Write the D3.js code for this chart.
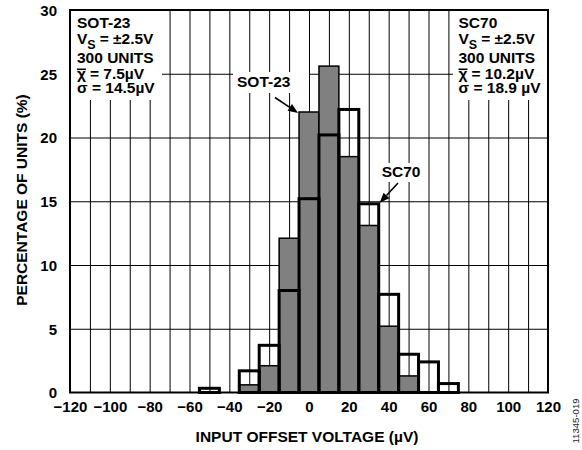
<!DOCTYPE html>
<html><head><meta charset="utf-8">
<script src="https://cdn.jsdelivr.net/npm/d3@7"></script>
<style>
body{margin:0;background:#fff}
svg{display:block}
text{font-family:"Liberation Sans",Arial,Helvetica,sans-serif}
</style>
</head><body>
<svg id="c" width="582" height="450"></svg>
<script>
// ---- data ----
const bins  = [-50, -40, -30, -20, -10, 0, 10, 20, 30, 40, 50, 60, 70];
const sot23 = [0, 0, 0.6, 2.1, 12.1, 22.0, 25.6, 18.5, 13.1, 5.2, 1.3, 0, 0];
const sc70  = [0.33, 0, 1.7, 3.7, 8.0, 15.2, 20.2, 22.2, 14.8, 7.7, 3.0, 2.4, 0.7];
const xTicks = [-120, -100, -80, -60, -40, -20, 0, 20, 40, 60, 80, 100, 120];
const yTicks = [0, 5, 10, 15, 20, 25, 30];
const xGrid = d3.range(-110, 111, 10);
const yGrid = [5, 10, 15, 20, 25];
const binWidth = 10;
const sotText = ["SOT-23", "2.5V", "300 UNITS", "= 7.5µV", "σ = 14.5µV"];
const scText  = ["SC70", "2.5V", "300 UNITS", "= 10.2µV", "σ = 18.9 µV"];

// ---- layout ----
const L = 70, R = 548, T = 10, B = 392.5;
const svg = d3.select("#c");
const x = d3.scaleLinear().domain([-120, 120]).range([L, R]);
const y = d3.scaleLinear().domain([0, 30]).range([B, T]);

// gridlines
svg.append("g").attr("transform", `translate(0,${B})`)
  .call(d3.axisBottom(x).tickValues(xGrid).tickSize(-(B - T)).tickFormat(""))
  .call(g => g.select(".domain").remove())
  .call(g => g.selectAll("line").attr("stroke", "#000").attr("stroke-width", 1));
svg.append("g").attr("transform", `translate(${L},0)`)
  .call(d3.axisLeft(y).tickValues(yGrid).tickSize(-(R - L)).tickFormat(""))
  .call(g => g.select(".domain").remove())
  .call(g => g.selectAll("line").attr("stroke", "#000").attr("stroke-width", 1));

// SOT-23 bars (grey)
svg.append("g").selectAll("rect")
  .data(bins.map((b, i) => ({b, v: sot23[i]})).filter(d => d.v > 0))
  .join("rect")
  .attr("x", d => x(d.b - binWidth / 2))
  .attr("width", d => x(d.b + binWidth / 2) - x(d.b - binWidth / 2))
  .attr("y", d => y(d.v))
  .attr("height", d => y(0) - y(d.v))
  .attr("fill", "#808080").attr("stroke", "#000").attr("stroke-width", 1.5);

// SC70 bars (thick outline only)
svg.append("g").selectAll("rect")
  .data(bins.map((b, i) => ({b, v: sc70[i]})).filter(d => d.v > 0))
  .join("rect")
  .attr("x", d => x(d.b - binWidth / 2))
  .attr("width", d => x(d.b + binWidth / 2) - x(d.b - binWidth / 2))
  .attr("y", d => y(d.v))
  .attr("height", d => y(0) - y(d.v))
  .attr("fill", "none").attr("stroke", "#000").attr("stroke-width", 3);

// frame
svg.append("rect").attr("x", L).attr("y", T).attr("width", R - L).attr("height", B - T)
  .attr("fill", "none").attr("stroke", "#000").attr("stroke-width", 2);

// axes tick labels
const gx = svg.append("g").attr("transform", `translate(0,${B})`)
  .call(d3.axisBottom(x).tickValues(xTicks).tickSize(0).tickFormat(d3.format("d")));
gx.select(".domain").remove();
gx.selectAll("text").attr("y", 19).attr("dy", 0)
  .style("font-size", "15px").style("font-weight", "bold")
  .style("font-family", '"Liberation Sans",Arial,sans-serif').attr("fill", "#000");

const gy = svg.append("g").attr("transform", `translate(${L},0)`)
  .call(d3.axisLeft(y).tickValues(yTicks).tickSize(0).tickFormat(d3.format("d")));
gy.select(".domain").remove();
gy.selectAll("text").attr("x", -13).attr("dy", "0.36em")
  .style("font-size", "15px").style("font-weight", "bold")
  .style("font-family", '"Liberation Sans",Arial,sans-serif').attr("fill", "#000");

// axis titles
svg.append("text").attr("x", 307).attr("y", 441.7).attr("text-anchor", "middle")
  .style("font-size", "15.5px").style("font-weight", "bold").text("INPUT OFFSET VOLTAGE (µV)");
svg.append("text").attr("transform", "translate(26.5,200) rotate(-90)").attr("text-anchor", "middle")
  .style("font-size", "15.5px").style("font-weight", "bold").text("PERCENTAGE OF UNITS (%)");
svg.append("text").attr("transform", "translate(578.5,421) rotate(-90)").attr("text-anchor", "middle")
  .style("font-size", "9.6px").attr("fill", "#222").text("11345-019");

// info boxes (one text element per box, one tspan per line)
function infoBox(bx, bw, tx, lines) {
  svg.append("rect").attr("x", bx).attr("y", T + 1).attr("width", bw).attr("height", 100 - T - 1).attr("fill", "#fff");
  const fs = "15.5px";
  // width of chi for the overbar
  const tmp = svg.append("text").style("font-size", fs).style("font-weight", "bold").text("χ");
  const w = tmp.node().getComputedTextLength();
  tmp.remove();
  const t = svg.append("text").style("font-size", fs).style("font-weight", "bold");
  t.append("tspan").attr("x", tx).attr("y", 28.3).text(lines[0]);
  t.append("tspan").attr("x", tx).attr("y", 43.5).text("V");
  t.append("tspan").attr("y", 48.5).style("font-size", "12.5px").text("S");
  t.append("tspan").attr("y", 43.5).attr("dx", 4).text("= ±" + lines[1]);
  t.append("tspan").attr("x", tx).attr("y", 63.2).text(lines[2]);
  t.append("tspan").attr("x", tx).attr("y", 78.5).text("χ");
  t.append("tspan").attr("dx", 4).text(lines[3]);
  t.append("tspan").attr("x", tx).attr("y", 92.6).text(lines[4]);
  svg.append("line").attr("x1", tx).attr("x2", tx + w).attr("y1", 69.3).attr("y2", 69.3)
    .attr("stroke", "#000").attr("stroke-width", 1.6);
}
infoBox(L + 1, 162 - L - 1, 77, sotText);
infoBox(453, R - 1 - 453, 458.5, scText);

// annotations
function arrow(x1, y1, x2, y2) {
  const dx = x2 - x1, dy = y2 - y1, len = Math.hypot(dx, dy);
  const ux = dx / len, uy = dy / len, hl = 10, hw = 4;
  const bxp = x2 - ux * hl, byp = y2 - uy * hl;
  svg.append("line").attr("x1", x1).attr("y1", y1).attr("x2", bxp).attr("y2", byp)
    .attr("stroke", "#000").attr("stroke-width", 1.6);
  svg.append("path").attr("d",
    `M${x2},${y2}L${bxp - uy * hw},${byp + ux * hw}L${bxp + uy * hw},${byp - ux * hw}Z`).attr("fill", "#000");
}
function label(bx, by, bw, bh, tx, ty, s) {
  svg.append("rect").attr("x", bx).attr("y", by).attr("width", bw).attr("height", bh).attr("fill", "#fff");
  svg.append("text").attr("x", tx).attr("y", ty).style("font-size", "15.5px").style("font-weight", "bold").text(s);
}
label(233, 72, 76, 21, 237, 86.7, "SOT-23");
arrow(275, 97.5, x(0 - binWidth / 2) - 1, y(sot23[bins.indexOf(0)]) + 1);
label(378, 163, 46, 19, 381.7, 177, "SC70");
arrow(398, 183, x(30 + binWidth / 2) + 1, y(sc70[bins.indexOf(30)]) - 1);
</script>
</body></html>
